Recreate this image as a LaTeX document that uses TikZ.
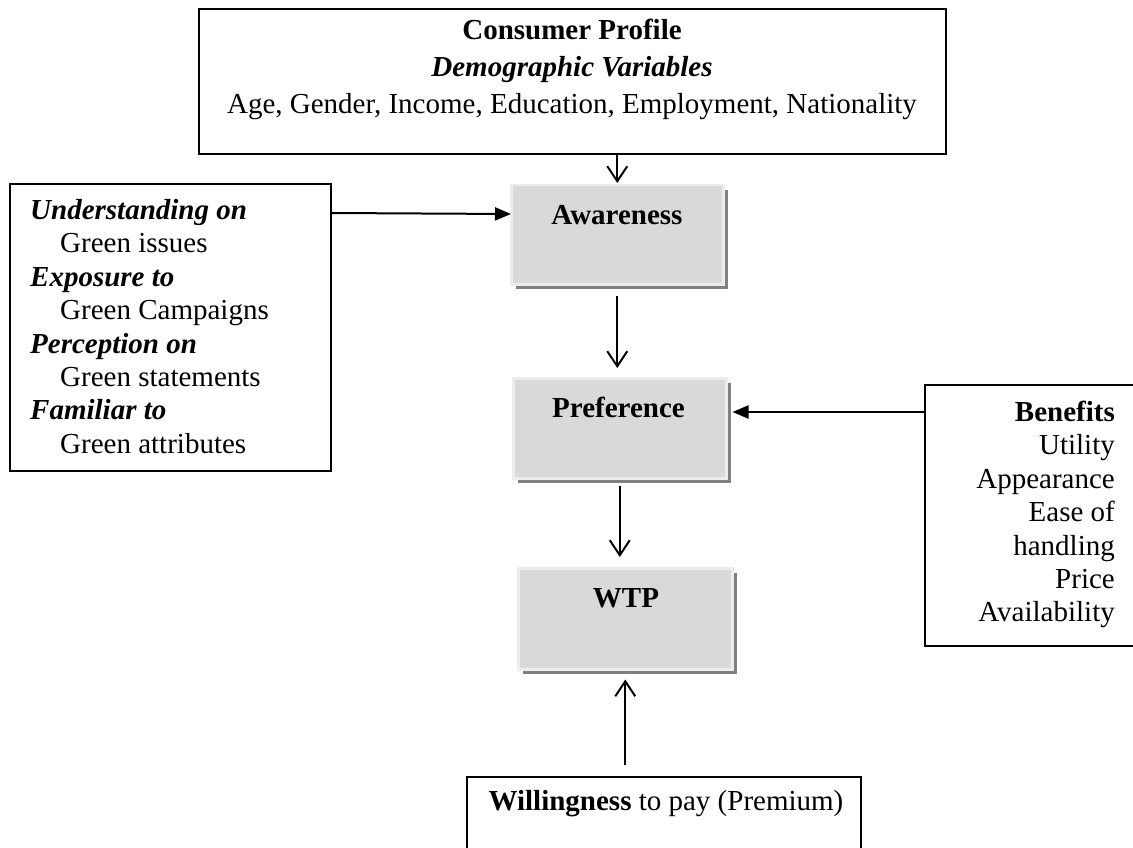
\documentclass[tikz,border=0pt]{standalone}
\usepackage{fontspec}
\setmainfont{Liberation Serif}
\usetikzlibrary{arrows.meta,calc,shadows}
\definecolor{boxfill}{HTML}{D9D9D9}
\definecolor{boxedge}{HTML}{EDEDED}
\definecolor{boxshadow}{HTML}{808080}
\begin{document}
\begin{tikzpicture}[x=1pt,y=-1pt,
  frame/.style={draw=black, line width=2pt, fill=white, inner sep=0pt, anchor=north west},
  stage/.style={fill=boxfill, draw=boxedge, line width=2.5pt, inner sep=0pt, anchor=north west,
    drop shadow={shadow xshift=5pt, shadow yshift=-5pt, fill=boxshadow, opacity=1}},
  txt/.style={font=\fontsize{29}{33.4}\selectfont, inner sep=0pt},
  bold/.style={txt, font=\fontsize{29}{33.4}\selectfont\bfseries},
  head/.style={txt, font=\fontsize{29}{33.4}\selectfont\bfseries\itshape},
  openarrow/.style={draw=black, line width=2pt, -{Straight Barb[length=15pt,width=20pt]}},
  fillarrow/.style={draw=black, line width=2pt, -{Triangle[length=16pt,width=13pt]}}
]
\useasboundingbox (0,0) rectangle (1133,848);
\clip (0,0) rectangle (1133,848);
\fill[white] (0,0) rectangle (1133,848);

% consumer profile
\node[frame, minimum width=747pt, minimum height=145pt] (top) at (198,8) {};
\node[bold, anchor=base] (t1) at (572,40) {Consumer Profile};
\node[head, anchor=base] (t2) at (572,77) {Demographic Variables};
\node[txt, anchor=base] (t3) at (572,114) {Age, Gender, Income, Education, Employment, Nationality};

% green knowledge factors
\node[frame, minimum width=321pt, minimum height=287pt] (left) at (9,183) {};
\node[head, anchor=base west] (l1) at (30,219.5) {Understanding on};
\node[txt, anchor=base west] (l2) at (60,252.9) {Green issues};
\node[head, anchor=base west] (l3) at (30,286.3) {Exposure to};
\node[txt, anchor=base west] (l4) at (60,319.7) {Green Campaigns};
\node[head, anchor=base west] (l5) at (30,353.1) {Perception on};
\node[txt, anchor=base west] (l6) at (60,386.5) {Green statements};
\node[head, anchor=base west] (l7) at (30,419.9) {Familiar to};
\node[txt, anchor=base west] (l8) at (60,453.3) {Green attributes};

% stages
\node[stage, minimum width=212pt, minimum height=99pt] (aw) at (510,184) {};
\node[bold, anchor=base] (awt) at (617,224.5) {Awareness};
\node[stage, minimum width=213pt, minimum height=100pt] (pr) at (512,377) {};
\node[bold, anchor=base] (prt) at (618.5,417.5) {Preference};
\node[stage, minimum width=214pt, minimum height=101pt] (wtp) at (517,567) {};
\node[bold, anchor=base] (wtpt) at (626,607.5) {WTP};

% benefits
\node[frame, minimum width=230pt, minimum height=261pt] (rb) at (924,384) {};
\node[bold, anchor=base east] (r1) at (1115,421.5) {Benefits};
\node[txt, anchor=base east] (r2) at (1115,454.9) {Utility};
\node[txt, anchor=base east] (r3) at (1115,488.3) {Appearance};
\node[txt, anchor=base east] (r4) at (1115,521.7) {Ease of};
\node[txt, anchor=base east] (r5) at (1115,555.1) {handling};
\node[txt, anchor=base east] (r6) at (1115,588.5) {Price};
\node[txt, anchor=base east] (r7) at (1115,621.9) {Availability};

% willingness
\node[frame, minimum width=394pt, minimum height=120pt] (bb) at (466,776) {};
\node[txt, anchor=base] (bbt) at (666,810) {\textbf{Willingness} to pay (Premium)};

% connectors
\draw[openarrow, shorten >=1pt] (aw.north |- top.south) -- (aw.north);
\draw[fillarrow] ($(left.north east)+(0,30)$) -- ($(aw.north west)+(1,30)$);
\draw[openarrow, shorten <=10pt, shorten >=9pt] (aw.south) -- (aw.south |- pr.north);
\draw[fillarrow] ($(rb.north west)+(0,28)$) -- ($(pr.north east)+(5,35)$);
\draw[openarrow, shorten <=6pt, shorten >=10pt] (pr.south) -- (pr.south |- wtp.north);
\draw[openarrow, shorten <=11pt, shorten >=9pt] (wtp.south |- bb.north) -- (wtp.south);
\end{tikzpicture}
\end{document}
